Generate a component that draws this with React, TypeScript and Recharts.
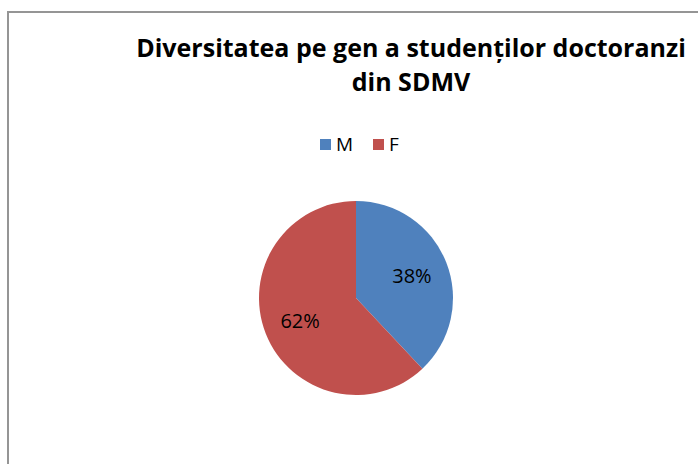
import React from 'react'
import { Cell, Pie, PieChart } from 'recharts'

const CATEGORIES = ['M', 'F']
const VALUES = [38, 62]
const COLORS = ['#4F81BD', '#C0504D']

const DATA = CATEGORIES.map((name, i) => ({ name, value: VALUES[i] }))

const FONT = '"Open Sans", "Liberation Sans", sans-serif'
const RADIAN = Math.PI / 180

const renderLabel = (props: any) => {
    const { cx, cy, midAngle, outerRadius, percent } = props
    const r = outerRadius * 0.62
    const x = cx + r * Math.cos(-midAngle * RADIAN)
    const y = cy + r * Math.sin(-midAngle * RADIAN)
    return (
        <text
            x={x}
            y={y}
            fill="#000"
            textAnchor="middle"
            dominantBaseline="central"
            fontSize={20}
            fontFamily={FONT}
        >
            {`${Math.round(percent * 100)}%`}
        </text>
    )
}

export default function App() {
    return (
        <div
            style={{
                position: 'absolute',
                left: 0,
                top: 0,
                width: 698,
                height: 464,
                overflow: 'hidden',
                background: '#fff',
            }}
        >
            <div
                style={{
                    position: 'absolute',
                    left: 7,
                    top: 11,
                    width: 720,
                    height: 480,
                    border: '2px solid #959595',
                    boxSizing: 'border-box',
                }}
            />
            <div
                style={{
                    position: 'absolute',
                    left: 110,
                    top: 30,
                    width: 602,
                    textAlign: 'center',
                    fontFamily: FONT,
                    fontWeight: 'bold',
                    fontSize: 25,
                    lineHeight: '34px',
                    color: '#000',
                    whiteSpace: 'nowrap',
                }}
            >
                Diversitatea pe gen a studenților doctoranzi
                <br />
                din SDMV
            </div>
            <div
                style={{
                    position: 'absolute',
                    left: 320,
                    top: 131,
                    display: 'flex',
                    alignItems: 'center',
                    fontFamily: FONT,
                    fontSize: 19,
                    color: '#000',
                    whiteSpace: 'nowrap',
                }}
            >
                {DATA.map((d, i) => (
                    <span
                        key={d.name}
                        style={{
                            display: 'flex',
                            alignItems: 'center',
                            marginRight: i === 0 ? 20 : 0,
                        }}
                    >
                        <span
                            style={{
                                width: 11,
                                height: 11,
                                background: COLORS[i],
                                display: 'inline-block',
                                marginRight: 5,
                            }}
                        />
                        {d.name}
                    </span>
                ))}
            </div>
            <div style={{ position: 'absolute', left: 0, top: 0 }}>
                <PieChart
                    width={698}
                    height={464}
                    margin={{ top: 0, right: 0, bottom: 0, left: 0 }}
                >
                    <Pie
                        data={DATA}
                        dataKey="value"
                        nameKey="name"
                        cx={356}
                        cy={298}
                        outerRadius={97}
                        startAngle={90}
                        endAngle={-270}
                        stroke="none"
                        labelLine={false}
                        label={renderLabel}
                        isAnimationActive={false}
                    >
                        {DATA.map((d, i) => (
                            <Cell key={d.name} fill={COLORS[i]} />
                        ))}
                    </Pie>
                </PieChart>
            </div>
        </div>
    )
}
